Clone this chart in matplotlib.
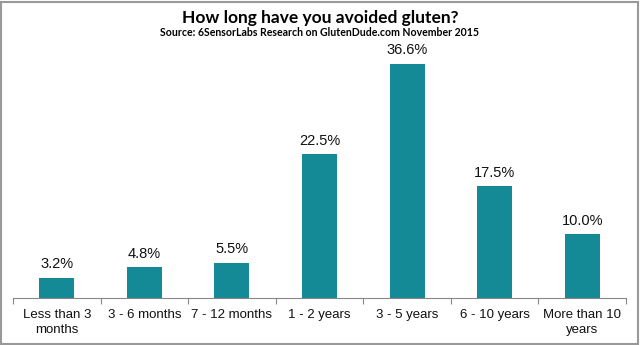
import matplotlib
matplotlib.use("Agg")
import matplotlib.pyplot as plt
from matplotlib.patches import Rectangle

categories = ["Less than 3\nmonths", "3 - 6 months", "7 - 12 months", "1 - 2 years",
              "3 - 5 years", "6 - 10 years", "More than 10\nyears"]
values = [3.2, 4.8, 5.5, 22.5, 36.6, 17.5, 10.0]
labels = ["3.2%", "4.8%", "5.5%", "22.5%", "36.6%", "17.5%", "10.0%"]

fig = plt.figure(figsize=(6.4, 3.45), dpi=100)
ax = fig.add_axes([13/640, 47/345, 613/640, 256/345])
x = list(range(len(categories)))
ax.bar(x, values, width=0.4, color="#138A95")
for xi, v, l in zip(x, values, labels):
    ax.text(xi, v + 1.0, l, ha="center", va="bottom", fontsize=10.5,
            family="Liberation Sans", color="#111111")
ax.set_xlim(-0.5, len(categories) - 0.5)
ax.set_ylim(0, 40)
ax.set_yticks([])
ax.set_xticks([i - 0.5 for i in range(len(categories) + 1)], minor=False)
ax.set_xticklabels([""] * (len(categories) + 1))
ax.set_xticks(x, minor=True)
ax.set_xticklabels(categories, minor=True, fontsize=9.5, family="Liberation Sans",
                   color="#111111", linespacing=1.35)
ax.tick_params(axis="x", which="minor", length=0, pad=8)
ax.tick_params(axis="x", which="major", length=4, color="#888888", direction="out")
for s in ["top", "right", "left"]:
    ax.spines[s].set_visible(False)
ax.spines["bottom"].set_color("#888888")

fig.text(0.5, 1 - 18/345, "How long have you avoided gluten?", ha="center", va="center",
         fontsize=12.5, fontweight="bold", family="Lato")
fig.text(0.5, 1 - 33/345, "Source: 6SensorLabs Research on GlutenDude.com November 2015",
         ha="center", va="center", fontsize=7.6, fontweight="bold", family="Lato")
fig.patches.append(Rectangle((1/640, 1/345), 637/640, 342/345, transform=fig.transFigure,
                             fill=False, edgecolor="#999999", linewidth=1.5))
fig.savefig("out.png", dpi=100)
